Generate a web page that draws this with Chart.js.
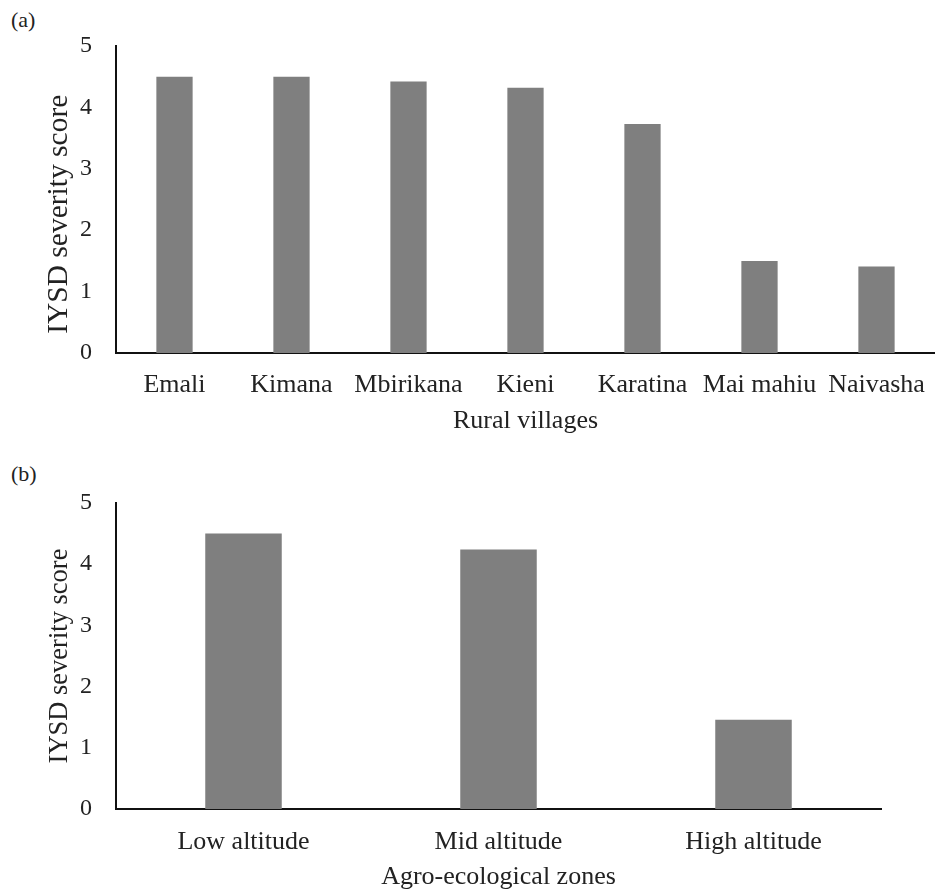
<!DOCTYPE html>
<html>
<head>
<meta charset="utf-8">
<script src="https://cdn.jsdelivr.net/npm/chart.js@4.4.1/dist/chart.umd.min.js"></script>
<style>
    body { margin: 0; background: #fff; }
    #page { position: relative; width: 935px; height: 893px; font-family: "Liberation Serif", "Times New Roman", serif; }
    .panel-label { position: absolute; left: 11px; font-size: 22px; line-height: 1; color: #222; }
    .chart-box { position: absolute; left: 0; width: 935px; }
</style>
</head>
<body>
<div id="page">
    <div class="panel-label" style="top: 9px;">(a)</div>
    <div class="chart-box" style="top: 0; height: 440px;"><canvas id="chart-a"></canvas></div>
    <div class="panel-label" style="top: 463px;">(b)</div>
    <div class="chart-box" style="top: 460px; height: 433px;"><canvas id="chart-b"></canvas></div>
</div>
<script>
var villages = ["Emali", "Kimana", "Mbirikana", "Kieni", "Karatina", "Mai mahiu", "Naivasha"];
var villageScores = [4.5, 4.5, 4.42, 4.32, 3.73, 1.5, 1.41];

var zones = ["Low altitude", "Mid altitude", "High altitude"];
var zoneScores = [4.5, 4.24, 1.46];

var yTicks = [0, 1, 2, 3, 4, 5];

function getBarChart(target, labels, values, opts) {
    var ChartData = {
        labels: labels,
        datasets: [
            {
                label: "IYSD severity score",
                data: values,
                backgroundColor: "#7f7f7f",
                borderWidth: 0,
                categoryPercentage: 1,
                barPercentage: opts.barPct,
            },
        ],
    };

    return new Chart(target, {
        type: "bar",
        data: ChartData,
        options: {
            maintainAspectRatio: false,
            responsive: true,
            animation: false,
            layout: {
                padding: { top: opts.top, right: opts.right, bottom: 0, left: 0 },
            },
            plugins: {
                legend: { display: false },
                tooltip: { enabled: false },
            },
            scales: {
                x: {
                    grid: { display: false },
                    border: { display: true, color: "#111", width: 2 },
                    ticks: {
                        color: "#222",
                        padding: opts.xTickPad,
                        maxRotation: 0,
                        autoSkip: false,
                        font: { family: "'Liberation Serif'", size: 26 },
                    },
                    title: {
                        display: true,
                        text: opts.xTitle,
                        color: "#222",
                        padding: { top: 0, bottom: opts.xTitlePad },
                        font: { family: "'Liberation Serif'", size: 26 },
                    },
                    afterFit: function (s) {
                        s.height = opts.xHeight;
                    },
                },
                y: {
                    min: 0,
                    max: 5,
                    afterBuildTicks: function (s) {
                        s.ticks = yTicks.map(function (v) { return { value: v }; });
                    },
                    grid: { display: false },
                    border: { display: true, color: "#111", width: 2 },
                    ticks: {
                        color: "#222",
                        padding: 16,
                        font: { family: "'Liberation Serif'", size: 24 },
                    },
                    title: {
                        display: true,
                        // trailing spaces push the centred title a bit lower, as in the figure
                        text: opts.yTitle,
                        color: "#222",
                        padding: { top: opts.yTitlePad, bottom: 0 },
                        font: { family: "'Liberation Serif'", size: opts.yTitleSize },
                    },
                    afterFit: function (s) {
                        s.width = 116;
                    },
                },
            },
        },
    });
}

document.addEventListener('DOMContentLoaded', function() {
    getBarChart(document.getElementById("chart-a"), villages, villageScores, {
        barPct: 0.31,
        top: 46,
        right: 0,
        xHeight: 87,
        xTickPad: 9,
        xTitle: "Rural villages",
        xTitlePad: 3,
        yTitle: "IYSD severity score    ",
        yTitleSize: 29.5,
        yTitlePad: 42,
    });
    getBarChart(document.getElementById("chart-b"), zones, zoneScores, {
        barPct: 0.30,
        top: 43,
        right: 54,
        xHeight: 84,
        xTickPad: 10,
        xTitle: "Agro-ecological zones",
        xTitlePad: 0,
        yTitle: "IYSD severity score",
        yTitleSize: 26.5,
        yTitlePad: 44,
    });
})
</script>
</body>
</html>
